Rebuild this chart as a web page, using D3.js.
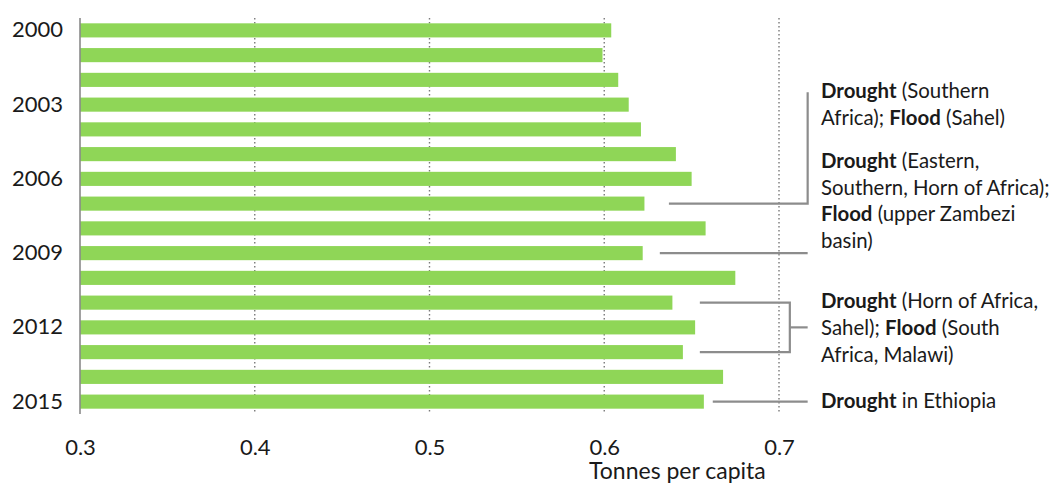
<!DOCTYPE html>
<html>
<head>
<meta charset="utf-8">
<script src="https://cdn.jsdelivr.net/npm/d3@7"></script>
<style>
  html, body { margin: 0; padding: 0; background: #fff; }
  svg { display: block; font-family: Lato, "Open Sans", sans-serif; }
</style>
</head>
<body>
<svg id="chart" width="1052" height="483"></svg>
<script>
// Food production per capita, 2000–2015 (tonnes)
const years = [2000, 2001, 2002, 2003, 2004, 2005, 2006, 2007,
               2008, 2009, 2010, 2011, 2012, 2013, 2014, 2015];
const tonnesPerCapita = [0.604, 0.599, 0.608, 0.614, 0.621, 0.641, 0.650, 0.623,
                         0.658, 0.622, 0.675, 0.639, 0.652, 0.645, 0.668, 0.657];
const labelledYears = [2000, 2003, 2006, 2009, 2012, 2015];
const xTicks = [0.3, 0.4, 0.5, 0.6, 0.7];
const xTitle = "Tonnes per capita";

// Event notes: each line is a list of [text, bold] runs
const notes = [
  { lines: [[["Drought", true], [" (Southern", false]],
            [["Africa); ", false], ["Flood", true], [" (Sahel)", false]]] },
  { lines: [[["Drought", true], [" (Eastern,", false]],
            [["Southern, Horn of Africa);", false]],
            [["Flood", true], [" (upper Zambezi", false]],
            [["basin)", false]]] },
  { lines: [[["Drought", true], [" (Horn of Africa,", false]],
            [["Sahel); ", false], ["Flood", true], [" (South", false]],
            [["Africa, Malawi)", false]]] },
  { lines: [[["Drought", true], [" in Ethiopia", false]]] }
];

const svg = d3.select("#chart");
const plot = { left: 80, right: 779, top: 18, bottom: 414 };

const x = d3.scaleLinear().domain([0.3, 0.7]).range([plot.left, plot.right]);
const y = d3.scaleBand().domain(years).range([plot.top, plot.bottom]).paddingInner(0.43).paddingOuter(0.215);

// Dotted vertical gridlines
svg.append("g")
  .selectAll("line")
  .data(xTicks.slice(1))
  .join("line")
  .attr("x1", d => x(d)).attr("x2", d => x(d))
  .attr("y1", plot.top).attr("y2", plot.bottom)
  .attr("stroke", "#7a7a7a")
  .attr("stroke-width", 1.4)
  .attr("stroke-dasharray", "1.6,2.4");

// Bars
svg.append("g")
  .selectAll("rect")
  .data(years)
  .join("rect")
  .attr("x", x(0.3))
  .attr("y", d => y(d))
  .attr("width", (d, i) => x(tonnesPerCapita[i]) - x(0.3))
  .attr("height", y.bandwidth())
  .attr("fill", "#8fd657");

// Category axis line
svg.append("line")
  .attr("x1", plot.left).attr("x2", plot.left)
  .attr("y1", plot.top).attr("y2", plot.bottom)
  .attr("stroke", "#8a8a8a").attr("stroke-width", 1.6);

// Year labels
const yAxis = d3.axisLeft(y).tickValues(labelledYears).tickSize(0).tickPadding(17);
const yg = svg.append("g").attr("transform", `translate(${plot.left},0)`).call(yAxis);
yg.select(".domain").remove();
yg.selectAll("text").attr("font-size", 22).attr("fill", "#1a1a1a")
  .attr("font-family", "Lato, 'Open Sans', sans-serif");

// Value axis labels
const xAxis = d3.axisBottom(x).tickValues(xTicks).tickFormat(d3.format(".1f")).tickSize(0).tickPadding(0);
const xg = svg.append("g").attr("transform", `translate(0,${plot.bottom + 41})`).call(xAxis);
xg.select(".domain").remove();
xg.selectAll("text").attr("font-size", 22).attr("fill", "#1a1a1a")
  .attr("font-family", "Lato, 'Open Sans', sans-serif")
  .attr("dy", "0");

svg.append("text")
  .attr("x", 589).attr("y", 479)
  .attr("font-size", 23).attr("fill", "#1a1a1a")
  .text(xTitle);

// Notes text
const textX = 821, lineH = 26.6, noteFont = 20.4;
const noteTop = [98.3, 168, 308.3, 408.3];
notes.forEach((n, k) => {
  n.lines.forEach((runs, j) => {
    const t = svg.append("text")
      .attr("x", textX).attr("y", noteTop[k] + j * lineH)
      .attr("font-size", noteFont).attr("fill", "#1a1a1a");
    runs.forEach(([s, b]) => t.append("tspan").attr("font-weight", b ? 700 : 400).text(s));
  });
});

// Leader lines from bars to notes
const yc = yr => y(yr) + y.bandwidth() / 2;
const leaders = svg.append("g").attr("fill", "none").attr("stroke", "#8c8c8c").attr("stroke-width", 2.2);
const stemX = x(0.7164);

// 2007 -> first two notes
leaders.append("path")
  .attr("d", `M${x(0.637)},${yc(2007)}H${stemX}V${noteTop[0] - 6}`);
// 2009 -> second note
leaders.append("path")
  .attr("d", `M${x(0.6318)},${yc(2009)}H${stemX}`);
// 2011 & 2013 bracket -> third note
const brX = x(0.7062);
leaders.append("path")
  .attr("d", `M${x(0.6547)},${yc(2011)}H${brX}V${yc(2013)}H${x(0.6547)}`);
leaders.append("path")
  .attr("d", `M${brX},${yc(2012)}H${stemX}`);
// 2015 -> fourth note
leaders.append("path")
  .attr("d", `M${x(0.6621)},${yc(2015)}H${stemX}`);
</script>
</body>
</html>
